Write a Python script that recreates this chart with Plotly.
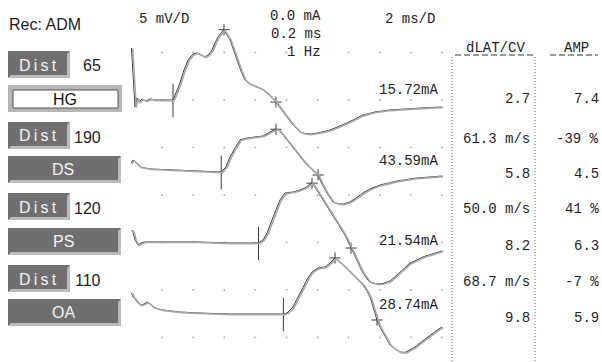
import plotly.graph_objects as go

# ---------------- data ----------------
record_site = "Rec: ADM"
sites = ["HG", "DS", "PS", "OA"]
distances_mm = [65, 190, 120, 110]
stim_current = ["15.72mA", "43.59mA", "21.54mA", "28.74mA"]
onset_latency_ms = [2.7, 5.8, 8.2, 9.8]
amplitude_mv = [7.4, 4.5, 6.3, 5.9]
conduction_velocity = ["61.3 m/s", "50.0 m/s", "68.7 m/s"]
amp_change = ["-39 %", "41 %", "-7 %"]
settings_left = "5 mV/D"
settings_mid = ["0.0 mA", "0.2 ms", "1 Hz"]
settings_right = "2 ms/D"
table_headers = ["dLAT/CV", "AMP"]

# waveforms: time (ms) and amplitude (mV, relative to baseline)
hg_t = [0.03, 0.13, 0.26, 0.39, 0.51, 0.71, 0.96, 1.22, 1.54, 1.86, 2.25, 2.7, 2.89, 3.15, 3.41,
        3.67, 3.99, 4.24, 4.50, 4.76, 5.02, 5.21, 5.40, 5.59, 5.79, 5.98, 6.17, 6.37, 6.62, 6.82,
        7.07, 7.33, 7.65, 8.10, 8.42, 8.75, 9.07, 9.32, 9.65, 10.03, 10.42, 10.87, 11.19, 11.51,
        12.03, 12.80, 13.44, 13.89, 14.41, 14.92, 15.69, 16.66, 17.62, 18.39, 19.23, 20.0]
hg_v = [5.47, 2.95, -0.74, 0.21, -0.21, 0.11, -0.11, 0.11, 0.0, 0.0, 0.0, 0.0, 0.74, 1.79, 3.16,
        4.21, 4.84, 4.95, 4.74, 4.53, 4.84, 5.26, 6.0, 6.63, 7.05, 7.4, 6.84, 6.32, 5.16, 4.21,
        3.05, 2.11, 1.68, 1.37, 1.16, 0.74, 0.21, -0.21, -0.95, -1.79, -2.63, -3.37, -3.53, -3.58,
        -3.47, -3.16, -2.74, -2.42, -2.0, -1.58, -1.26, -1.05, -0.95, -0.84, -0.79, -0.74]

ds_t = [0.0, 0.13, 0.32, 0.58, 1.22, 2.51, 4.44, 5.8, 6.11, 6.37, 6.69, 7.01, 7.46, 8.10, 8.49,
        8.94, 9.32, 9.52, 9.77, 10.10, 10.42, 10.74, 11.06, 11.38, 11.64, 12.03, 12.28, 12.60,
        12.99, 13.31, 13.63, 14.08, 14.47, 14.92, 15.37, 16.01, 17.11, 18.39, 19.23, 20.0]
ds_v = [0.95, 1.26, 0.95, 0.53, 0.32, 0.21, 0.11, 0.0, 0.53, 1.58, 2.53, 3.37, 3.58, 3.68, 3.79,
        4.21, 4.5, 4.42, 3.89, 3.26, 2.63, 1.89, 1.26, 0.63, 0.21, -0.32, -1.26, -2.21,
        -3.16, -3.32, -3.37, -3.16, -2.74, -2.21, -1.79, -1.37, -0.95, -0.63, -0.53, -0.42]

ps_t = [0.03, 0.13, 0.26, 0.45, 0.64, 0.90, 2.06, 4.24, 6.37, 8.2, 8.49, 8.75, 8.94, 9.13, 9.39,
        9.58, 9.90, 10.42, 10.87, 11.19, 11.45, 11.64, 11.83, 12.03, 12.28, 12.60, 12.93, 13.25,
        13.50, 13.76, 13.95, 14.15, 14.34, 14.53, 14.73, 14.92, 15.18, 15.37, 15.82, 16.21,
        16.66, 17.11, 17.49, 17.94, 18.39, 18.78, 19.36, 20.0]
ps_v = [1.37, 1.16, 0.32, -0.21, 0.0, 0.11, 0.11, 0.11, 0.0, 0.0, 0.32, 1.05, 1.89, 2.74, 3.68,
        4.53, 5.26, 5.37, 5.58, 5.79, 6.11, 6.3, 5.89, 5.37, 4.63, 3.79, 2.95, 2.11,
        1.47, 0.84, 0.21, -0.53, -1.16, -1.79, -2.53, -3.16, -3.79, -4.11, -4.32, -4.26,
        -4.0, -3.37, -2.84, -2.11, -1.79, -1.47, -1.16, -0.84]

oa_t = [0.03, 0.13, 0.26, 0.45, 0.64, 0.84, 1.03, 1.22, 1.41, 1.74, 2.06, 3.15, 4.24, 6.37, 9.8,
        10.03, 10.23, 10.42, 10.74, 11.06, 11.38, 11.64, 12.03, 12.48, 12.80, 13.12, 13.44, 13.63,
        13.95, 14.28, 14.60, 14.92, 15.18, 15.37, 15.56, 15.82, 16.01, 16.21, 16.46, 16.66,
        16.98, 17.30, 17.62, 17.94, 18.26, 18.59, 18.91, 19.23, 19.61, 20.0]
oa_v = [2.21, 1.79, 1.58, 1.16, 0.95, 1.05, 1.26, 1.05, 0.74, 0.53, 0.42, 0.21, 0.11, 0.0, 0.0,
        0.11, 0.42, 0.74, 1.79, 2.84, 3.79, 4.42, 4.84, 4.95, 5.37, 5.9, 5.47, 5.16,
        4.63, 4.11, 3.58, 3.05, 2.42, 1.79, 0.84, -0.63, -1.37, -2.0, -2.74, -3.26,
        -3.68, -4.0, -4.05, -3.79, -3.47, -3.05, -2.63, -2.21, -1.79, -1.37]

peak_t = [5.98, 9.32, 11.64, 13.12]
neg_t = [9.32, 12.03, 14.15, 15.82]
neg_v = [-0.21, -0.32, -0.53, -0.63]

waves = [(hg_t, hg_v), (ds_t, ds_v), (ps_t, ps_v), (oa_t, oa_v)]

# ---------------- layout constants ----------------
W, H = 602, 362
PX_PER_MS = 15.55        # 2 ms / division
PX_PER_MV = 9.5          # 5 mV / division
X0_PX = 131
TRACE_BASE_PX = [100, 172, 243, 314]
DARK = "#3a3a3a"
LIGHT = "#a8a8a8"
MONO = "Liberation Mono"
SANS = "Liberation Sans"

xr = [-X0_PX / PX_PER_MS, (W - X0_PX) / PX_PER_MS]
yr = [-H / PX_PER_MV, 0]
dx = 1.2 / PX_PER_MS
dy = 0.6 / PX_PER_MV


def px(x):
    return x / W


def py(y):
    return 1 - y / H


fig = go.Figure()

# grid dots
gx, gy = [], []
for k in range(1, 11):
    for j in range(-1, 6):
        gx.append(2 * k)
        gy.append(-TRACE_BASE_PX[0] / PX_PER_MV - 5 * j)
fig.add_trace(go.Scatter(x=gx, y=gy, mode="markers",
                         marker=dict(size=2, color="#b4b4b4"), hoverinfo="skip"))

for i, (t, v) in enumerate(waves):
    off = -TRACE_BASE_PX[i] / PX_PER_MV
    yy = [off + a for a in v]
    # second (superimposed) response, light grey
    fig.add_trace(go.Scatter(x=t, y=yy, mode="lines", xaxis="x2", yaxis="y2",
                             line=dict(color=LIGHT, width=1.6), hoverinfo="skip"))
    fig.add_trace(go.Scatter(x=t, y=yy, mode="lines",
                             line=dict(color=DARK, width=1), hoverinfo="skip"))
    # onset tick
    fig.add_trace(go.Scatter(x=[onset_latency_ms[i]], y=[off - 0.05], mode="markers",
                             marker=dict(symbol="line-ns", size=24,
                                         line=dict(color=DARK, width=1)), hoverinfo="skip"))
    # peak and negative crossing markers
    fig.add_trace(go.Scatter(x=[peak_t[i], neg_t[i]], y=[off + amplitude_mv[i], off + neg_v[i]],
                             mode="markers",
                             marker=dict(symbol="cross-thin", size=8,
                                         line=dict(color=DARK, width=1)), hoverinfo="skip"))

shapes = []
annotations = []


def ann(text, x, y, anchor="left", font=MONO, size=14, color="#1e1e1e"):
    annotations.append(dict(text=text, x=px(x), y=py(y), xref="paper", yref="paper",
                            xanchor=anchor, yanchor="middle", showarrow=False,
                            font=dict(family=font, size=size, color=color)))


def dark_button(x0, x1, top, h=27):
    bot = top + h
    shapes.append(dict(type="rect", xref="paper", yref="paper", x0=px(x0), x1=px(x1),
                       y0=py(bot), y1=py(top), fillcolor="#bababa", line=dict(width=0),
                       layer="above"))
    path = "M {},{} L {},{} L {},{} L {},{} L {},{} L {},{} Z".format(
        px(x0), py(top), px(x1), py(top), px(x1 - 3), py(top + 3),
        px(x1 - 3), py(bot - 3), px(x0 + 3), py(bot - 3), px(x0), py(bot))
    shapes.append(dict(type="path", xref="paper", yref="paper", path=path,
                       fillcolor="#6f6f6f", line=dict(width=0), layer="above"))


DIST_TOP = [51, 122, 193, 265]
STIM_TOP = [85, 156, 228, 299]

for i in range(4):
    dark_button(8, 70, DIST_TOP[i])
    ann("D\u2009i\u2009s\u2009t", 38, DIST_TOP[i] + 14, "center", SANS, 16, "#f4f4f4")
    ann(str(distances_mm[i]), 103, DIST_TOP[i] + 15, "right", SANS, 16)
    if i == 0:
        top = STIM_TOP[i]
        shapes.append(dict(type="rect", xref="paper", yref="paper", x0=px(8), x1=px(122),
                           y0=py(top + 27), y1=py(top), fillcolor="#b6b6b6",
                           line=dict(width=0), layer="above"))
        shapes.append(dict(type="rect", xref="paper", yref="paper", x0=px(13), x1=px(118),
                           y0=py(top + 23), y1=py(top + 5), fillcolor="white",
                           line=dict(width=1, color="#555555"), layer="above"))
        ann(sites[i], 65, top + 14, "center", SANS, 16, "#111111")
    else:
        dark_button(8, 121, STIM_TOP[i])
        ann(sites[i], 63, STIM_TOP[i] + 13, "center", SANS, 16, "#f4f4f4")

# header texts
ann(record_site, 7, 24, "left", SANS, 16)
ann(settings_left, 137, 19, "left")
for k, s in enumerate(settings_mid):
    ann(s, 323, 15.5 + 18.3 * k, "right")
ann(settings_right, 383, 19, "left")

# stimulus currents
CUR_Y = [90, 161, 241, 305]
for i in range(4):
    ann(stim_current[i], 440, CUR_Y[i], "right")

# table
ann(table_headers[0], 495, 48.5, "center")
ann(table_headers[1], 576, 48.5, "center")
shapes.append(dict(type="line", xref="paper", yref="paper", x0=px(455), x1=px(533),
                   y0=py(55), y1=py(55), line=dict(color="#333333", width=1, dash="6px,3px")))
shapes.append(dict(type="line", xref="paper", yref="paper", x0=px(550), x1=px(598),
                   y0=py(55), y1=py(55), line=dict(color="#333333", width=1, dash="6px,3px")))
for xl in (452, 535):
    shapes.append(dict(type="line", xref="paper", yref="paper", x0=px(xl), x1=px(xl),
                       y0=py(57), y1=py(362), line=dict(color="#666666", width=1, dash="1px,2px")))

LAT_Y = [99, 174, 246, 318]
CV_Y = [139, 209, 282]
for i in range(4):
    ann("{:.1f}".format(onset_latency_ms[i]), 532, LAT_Y[i], "right")
    ann("{:.1f}".format(amplitude_mv[i]), 601, LAT_Y[i], "right")
for i in range(3):
    ann(conduction_velocity[i], 532, CV_Y[i], "right")
    ann(amp_change[i], 601, CV_Y[i], "right")

ax = dict(visible=False, showgrid=False, zeroline=False, fixedrange=True)
fig.update_layout(
    width=W, height=H, margin=dict(l=0, r=0, t=0, b=0),
    paper_bgcolor="white", plot_bgcolor="white", showlegend=False,
    xaxis=dict(range=xr, domain=[0, 1], **ax),
    yaxis=dict(range=yr, domain=[0, 1], **ax),
    xaxis2=dict(range=[xr[0] - dx, xr[1] - dx], overlaying="x", domain=[0, 1], **ax),
    yaxis2=dict(range=[yr[0] + dy, yr[1] + dy], overlaying="y", domain=[0, 1], **ax),
    shapes=shapes, annotations=annotations,
)

fig.write_html("out.html", config={"displayModeBar": False},
               post_script="document.body.style.margin='0';document.body.style.overflow='hidden';")
